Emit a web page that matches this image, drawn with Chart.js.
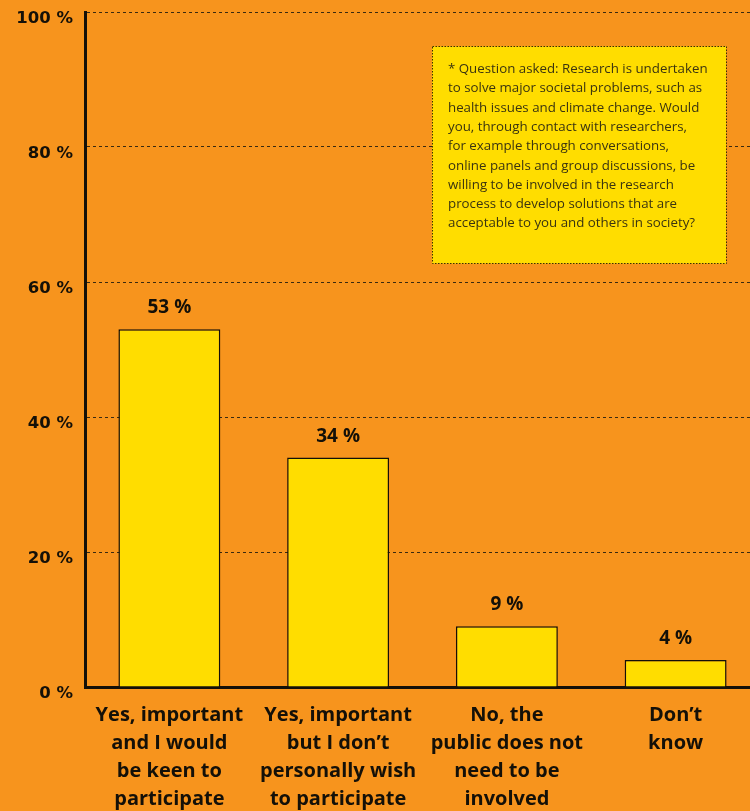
<!DOCTYPE html>
<html>
<head>
<meta charset="utf-8">
<script src="https://cdn.jsdelivr.net/npm/chart.js@4/dist/chart.umd.min.js"></script>
<style>
  html, body { margin: 0; padding: 0; background: #F7941D; overflow: hidden; }
  #wrap { position: relative; width: 750px; height: 811px; overflow: hidden; }
  canvas { display: block; }
</style>
</head>
<body>
<div id="wrap"><canvas id="c" width="760" height="811"></canvas></div>
<script>
// Survey answers and their shares (%)
const categories = [
  ["Yes, important", "and I would", "be keen to", "participate"],
  ["Yes, important", "but I don\u2019t", "personally wish", "to participate"],
  ["No, the", "public does not", "need to be", "involved"],
  ["Don\u2019t", "know"]
];
const shares = [53, 34, 9, 4];
const yTicks = [0, 20, 40, 60, 80, 100];
const noteLines = [
  "* Question asked: Research is undertaken",
  "to solve major societal problems, such as",
  "health issues and climate change. Would",
  "you, through contact with researchers,",
  "for example through conversations,",
  "online panels and group discussions, be",
  "willing to be involved in the research",
  "process to develop solutions that are",
  "acceptable to you and others in society?"
];

const ORANGE = '#F7941D';
const YELLOW = '#FFDD00';
const INK = '#141008';

// value labels above each bar
const valueLabels = {
  id: 'valueLabels',
  afterDatasetsDraw(chart) {
    const ctx = chart.ctx;
    const meta = chart.getDatasetMeta(0);
    ctx.save();
    ctx.font = 'bold 19px "Open Sans"';
    ctx.fillStyle = INK;
    ctx.textAlign = 'center';
    ctx.textBaseline = 'alphabetic';
    meta.data.forEach((bar, i) => {
      ctx.fillText(shares[i] + ' %', bar.x, bar.y - 16);
    });
    ctx.restore();
  }
};

// boxed question text in the upper right
const questionNote = {
  id: 'questionNote',
  afterDraw(chart) {
    const ctx = chart.ctx;
    const x0 = 432, y0 = 46.5, w = 294, h = 217;
    ctx.save();
    ctx.fillStyle = YELLOW;
    ctx.fillRect(x0, y0, w, h);
    ctx.strokeStyle = '#3a3000';
    ctx.lineWidth = 1;
    ctx.setLineDash([1.5, 1.5]);
    ctx.strokeRect(x0 + 0.5, y0, w, h);
    ctx.setLineDash([]);
    ctx.fillStyle = '#3a3410';
    ctx.font = '13.3px "Open Sans"';
    ctx.textAlign = 'left';
    ctx.textBaseline = 'alphabetic';
    noteLines.forEach((line, i) => {
      ctx.fillText(line, 448, 73 + i * 19.3);
    });
    ctx.restore();
  }
};

new Chart(document.getElementById('c'), {
  type: 'bar',
  data: {
    labels: categories,
    datasets: [{
      data: shares,
      backgroundColor: YELLOW,
      borderColor: INK,
      borderWidth: 1.5,
      barPercentage: 0.604,
      categoryPercentage: 1
    }]
  },
  options: {
    responsive: false,
    animation: false,
    devicePixelRatio: 1,
    layout: { padding: { top: 12, left: 0, right: 0, bottom: 0 } },
    plugins: { legend: { display: false }, tooltip: { enabled: false } },
    scales: {
      x: {
        grid: { display: false, drawTicks: false },
        border: { display: true, color: INK, width: 3 },
        ticks: {
          color: INK,
          font: { family: '"Open Sans"', size: 20, weight: 'bold', lineHeight: 1.4 },
          padding: 14,
          maxRotation: 0,
          autoSkip: false
        },
        afterFit(scale) {
          scale.height = 124;
          scale.paddingLeft = 0;
          scale.paddingRight = 0;
        }
      },
      y: {
        min: 0,
        max: 100,
        afterBuildTicks(scale) { scale.ticks = yTicks.map(v => ({ value: v })); },
        grid: { color: '#3a2a10', lineWidth: 1, drawTicks: false },
        border: { display: true, color: INK, width: 3, dash: [3, 3] },
        ticks: {
          color: INK,
          font: { family: '"DejaVu Sans"', size: 16.5, weight: 'bold' },
          padding: 12,
          labelOffset: 7,
          callback: v => v + ' %'
        },
        afterFit(scale) {
          scale.width = 85;
          scale.paddingTop = 0;
          scale.paddingBottom = 0;
        }
      }
    }
  },
  plugins: [valueLabels, questionNote]
});
</script>
</body>
</html>
